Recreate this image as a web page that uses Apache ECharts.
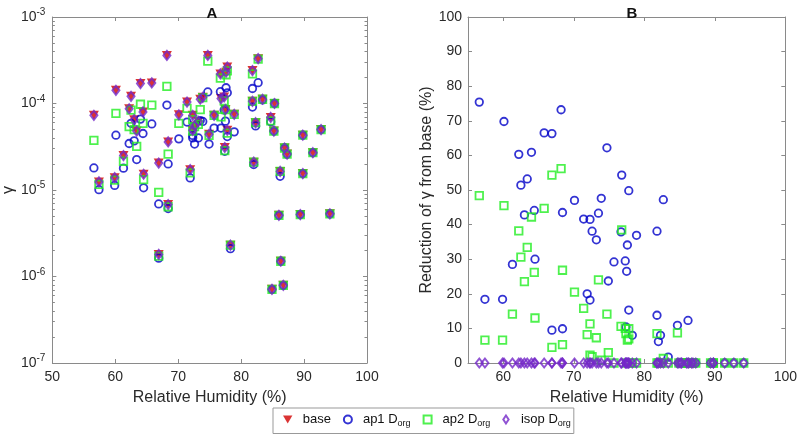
<!DOCTYPE html>
<html><head><meta charset="utf-8">
<script src="https://cdn.jsdelivr.net/npm/echarts@6/dist/echarts.min.js"></script>
<style>html,body{margin:0;padding:0;background:#fff}#c{width:800px;height:436px}</style>
</head><body><div id="c"></div>
<script>
// Relative humidity of each observation (%)
const rh = [56.6,57.4,59.9,60.1,61.3,62.2,62.5,63.0,63.4,64.0,
  64.4,64.5,65.8,66.9,66.9,68.2,68.4,68.4,70.1,71.4,
  71.9,72.3,72.3,72.6,73.2,73.5,73.9,74.7,74.9,75.7,
  76.7,76.8,77.3,77.4,77.5,77.6,77.8,77.8,78.3,78.9,
  81.8,81.8,82.0,82.3,82.7,83.4,84.7,84.9,85.2,85.3,
  86.0,86.2,86.3,86.7,86.9,87.3,89.4,89.8,89.8,91.4,92.7,94.1];
// Panel A: gamma
const gammaBase = [7.3e-5,1.24e-5,1.39e-5,1.42e-4,2.5e-5,8.7e-5,1.21e-4,6.5e-5,4.8e-5,1.70e-4,
  8.0e-5,1.52e-5,1.73e-4,2.05e-5,1.8e-6,3.6e-4,6.8e-6,3.6e-5,7.4e-5,1.04e-4,
  1.72e-5,7.3e-5,4.9e-5,5.5e-5,6.2e-5,1.12e-4,1.18e-4,3.6e-4,4.4e-5,7.3e-5,
  2.2e-4,1.14e-4,1.19e-4,3.1e-5,8.5e-5,2.3e-4,2.64e-4,4.9e-5,2.3e-6,7.5e-5,
  2.4e-4,1.06e-4,2.1e-5,6.0e-5,3.3e-4,1.12e-4,6.9e-5,7.1e-7,4.8e-5,1.0e-4,
  5.1e-6,1.64e-5,1.5e-6,7.9e-7,3.06e-5,2.6e-5,5.2e-6,4.3e-5,1.55e-5,2.7e-5,5.0e-5,5.3e-6];
const gammaAp1 = [1.8e-5,1.01e-5,1.13e-5,4.3e-5,1.79e-5,3.45e-5,5.9e-5,3.7e-5,2.25e-5,6.6e-5,
  4.5e-5,1.06e-5,5.8e-5,6.9e-6,1.63e-6,9.6e-5,6.1e-6,2.0e-5,3.9e-5,6.1e-5,
  1.38e-5,4.27e-5,4.0e-5,3.4e-5,4.0e-5,6.35e-5,6.2e-5,1.36e-4,3.4e-5,5.2e-5,
  1.37e-4,5.2e-5,8.4e-5,2.8e-5,6.25e-5,1.52e-4,1.33e-4,4.15e-5,2.1e-6,4.7e-5,
  1.49e-4,9.1e-5,1.97e-5,5.5e-5,1.74e-4,1.1e-4,6.15e-5,7.1e-7,4.8e-5,1.0e-4,
  5.1e-6,1.44e-5,1.5e-6,7.9e-7,3.06e-5,2.6e-5,5.2e-6,4.3e-5,1.55e-5,2.7e-5,5.0e-5,5.3e-6];
const gammaAp2 = [3.75e-5,1.16e-5,1.30e-5,7.7e-5,2.15e-5,5.4e-5,8.4e-5,5.0e-5,3.2e-5,9.8e-5,
  5.9e-5,1.32e-5,9.6e-5,9.4e-6,1.72e-6,1.58e-4,6.4e-6,2.6e-5,5.9e-5,8.8e-5,
  1.58e-5,6.5e-5,4.8e-5,5.4e-5,5.75e-5,8.5e-5,1.17e-4,3.09e-4,4.27e-5,7.3e-5,
  1.97e-4,7.0e-5,1.07e-4,2.85e-5,8.5e-5,2.15e-4,2.38e-4,4.55e-5,2.3e-6,7.5e-5,
  2.2e-4,1.06e-4,2.1e-5,6.0e-5,3.26e-4,1.12e-4,6.3e-5,7.1e-7,4.8e-5,1.0e-4,
  5.1e-6,1.64e-5,1.5e-6,7.9e-7,3.06e-5,2.6e-5,5.2e-6,4.3e-5,1.55e-5,2.7e-5,5.0e-5,5.3e-6];
const gammaIsop = [7.3e-5,1.24e-5,1.39e-5,1.42e-4,2.5e-5,8.7e-5,1.21e-4,6.5e-5,4.8e-5,1.70e-4,
  8.0e-5,1.52e-5,1.73e-4,2.05e-5,1.8e-6,3.6e-4,6.8e-6,3.6e-5,7.4e-5,1.04e-4,
  1.72e-5,7.3e-5,4.9e-5,5.5e-5,6.2e-5,1.12e-4,1.18e-4,3.6e-4,4.4e-5,7.3e-5,
  2.2e-4,1.14e-4,1.19e-4,3.1e-5,8.5e-5,2.3e-4,2.64e-4,4.9e-5,2.3e-6,7.5e-5,
  2.4e-4,1.06e-4,2.1e-5,6.0e-5,3.3e-4,1.12e-4,6.9e-5,7.1e-7,4.8e-5,1.0e-4,
  5.1e-6,1.64e-5,1.5e-6,7.9e-7,3.06e-5,2.6e-5,5.2e-6,4.3e-5,1.55e-5,2.7e-5,5.0e-5,5.3e-6];
// Panel B: reduction of gamma from base (%)
const redAp1 = [75.4,18.4,18.4,69.8,28.5,60.3,51.4,42.8,53.2,60.9,
  44.1,30.0,66.5,66.3,9.5,73.2,9.9,43.5,47.0,41.6,
  20.0,41.5,18.2,38.1,35.6,43.3,47.6,62.2,23.7,29.2,
  37.9,54.3,29.5,10.4,26.5,34.1,49.8,15.3,8.0,36.9,
  38.1,13.8,6.2,8.0,47.2,1.7,10.9,0,0,0,
  0,12.3,0,0,0,0,0,0,0,0,0,0];
const redAp2 = [48.4,6.6,6.6,45.5,14.1,38.2,30.6,23.5,33.4,42.2,
  26.2,13.0,44.7,54.3,4.5,56.2,5.3,26.8,20.5,15.8,
  8.2,11.3,2.3,1.8,7.3,24.0,0.8,14.1,3.0,0,
  10.6,38.5,10.0,8.5,0,6.6,9.9,7.0,0,0,
  8.5,0,0,0,1.3,0,8.7,0,0,0,
  0,0,0,0,0,0,0,0,0,0,0,0];
const redIsop = [0,0,0,0,0,0,0,0,0,0, 0,0,0,0,0,0,0,0,0,0,
  0,0,0,0,0,0,0,0,0,0, 0,0,0,0,0,0,0,0,0,0,
  0,0,0,0,0,0,0,0,0,0, 0,0,0,0,0,0,0,0,0,0,0,0];
const xTicksB = [60,70,80,90,100];
const seriesNames = ['base','ap1','ap2','isop'];
const legendLabels = {base:'base', ap1:'ap1 D{sub|org}', ap2:'ap2 D{sub|org}', isop:'isop D{sub|org}'};

const pairs = (xs, ys) => xs.map((x,i) => [x, ys[i]]);
const C = {base:'#d10000', ap1:'#0000c8', ap2:'#22ee22', isop:'#7428c8'};
const FONT = 'Liberation Sans, Arial, sans-serif';
const AX = '#8a8a8a';
const TXT = '#2a2a2a';
const triDown = 'path://M0,0L20,0L10,17Z';
const squarePath = 'path://M0,0L10,0L10,10L0,10Z';
const diamondPath = 'path://M5,0L9,6L5,12L1,6Z';

// minor tick positions for log axis (in exponent space)
const minorLog = [];
for (let e = -7; e < -3; e++) for (let k = 2; k <= 9; k++) minorLog.push(e + Math.log10(k));

function xAx(grid, pos, min, max, show, extra) {
  return Object.assign({
    type:'value', gridIndex:grid, position:pos, min:min, max:max,
    axisLine:{show:true, onZero:false, lineStyle:{color:AX, width:1}},
    axisTick:{show:true, inside:true, length:4, lineStyle:{color:AX}},
    axisLabel:{show:show, color:TXT, fontSize:14, fontFamily:FONT, margin:7},
    splitLine:{show:false}
  }, extra || {});
}
const hollow = c => ({color:'rgba(0,0,0,0)', borderColor:c, borderWidth:1.8});

const option = {
  animation:false,
  backgroundColor:'#fff',
  textStyle:{fontFamily:FONT},
  title:[
    {text:'A', left:207, top:1, textAlign:'center', textStyle:{fontSize:15, fontWeight:'bold', color:'#111', fontFamily:FONT}},
    {text:'B', left:627, top:1, textAlign:'center', textStyle:{fontSize:15, fontWeight:'bold', color:'#111', fontFamily:FONT}}
  ],
  grid:[
    {left:48, top:17, width:319, height:346},
    {left:468, top:17, width:319, height:346}
  ],
  legend:{
    left:273, top:408, orient:'horizontal',
    itemWidth:20, itemHeight:8, itemGap:12,
    padding:[5,3,5,10],
    borderColor:'#999', borderWidth:1, backgroundColor:'#fff',
    data:seriesNames,
    formatter:name => legendLabels[name],
    textStyle:{fontSize:13, color:'#111', fontFamily:FONT,
      rich:{sub:{fontSize:9, color:'#111', fontFamily:FONT, padding:[9,0,0,0]}}}
  },
  xAxis:[
    xAx(0,'bottom',50,100,true,{interval:10, name:'Relative Humidity (%)', nameLocation:'middle', nameGap:27,
      nameTextStyle:{fontSize:16, color:TXT, fontFamily:FONT}}),
    xAx(0,'top',50,100,false,{interval:10}),
    xAx(1,'bottom',55,100,true,{name:'Relative Humidity (%)', nameLocation:'middle', nameGap:27,
      nameTextStyle:{fontSize:16, color:TXT, fontFamily:FONT},
      axisLabel:{show:true, color:TXT, fontSize:14, fontFamily:FONT, margin:7, customValues:xTicksB},
      axisTick:{show:true, inside:true, length:4, lineStyle:{color:AX}, customValues:xTicksB}}),
    xAx(1,'top',55,100,false,{
      axisTick:{show:true, inside:true, length:4, lineStyle:{color:AX}, customValues:xTicksB}})
  ],
  yAxis:[
    {type:'log', logBase:10, gridIndex:0, position:'left', min:1e-7, max:1e-3,
      axisLine:{show:true, lineStyle:{color:AX}},
      axisTick:{show:true, inside:true, length:4, lineStyle:{color:AX}},
      axisLabel:{color:TXT, fontSize:14, fontFamily:FONT, margin:7,
        formatter:v => '10{sup|' + Math.round(Math.log10(v)) + '}',
        rich:{sup:{fontSize:10, color:TXT, fontFamily:FONT, padding:[0,0,9,0]}}},
      splitLine:{show:false},
      name:'γ', nameLocation:'middle', nameGap:32, nameRotate:90,
      nameTextStyle:{fontSize:16, color:TXT, fontFamily:FONT}},
    {type:'log', logBase:10, gridIndex:0, position:'right', min:1e-7, max:1e-3,
      axisLine:{show:true, lineStyle:{color:AX}},
      axisTick:{show:true, inside:true, length:4, lineStyle:{color:AX}},
      axisLabel:{show:false}, splitLine:{show:false}},
    {type:'value', gridIndex:0, position:'left', min:-7, max:-3,
      axisLine:{show:false}, axisLabel:{show:false}, splitLine:{show:false},
      axisTick:{show:true, inside:true, length:2.5, lineStyle:{color:AX}, customValues:minorLog}},
    {type:'value', gridIndex:0, position:'right', min:-7, max:-3,
      axisLine:{show:false}, axisLabel:{show:false}, splitLine:{show:false},
      axisTick:{show:true, inside:true, length:2.5, lineStyle:{color:AX}, customValues:minorLog}},
    {type:'value', gridIndex:1, position:'left', min:0, max:100, interval:10,
      axisLine:{show:true, lineStyle:{color:AX}},
      axisTick:{show:true, inside:true, length:4, lineStyle:{color:AX}},
      axisLabel:{color:TXT, fontSize:14, fontFamily:FONT, margin:6},
      splitLine:{show:false},
      name:'Reduction of γ from base (%)', nameLocation:'middle', nameGap:33, nameRotate:90,
      nameTextStyle:{fontSize:16, color:TXT, fontFamily:FONT}},
    {type:'value', gridIndex:1, position:'right', min:0, max:100, interval:10,
      axisLine:{show:true, lineStyle:{color:AX}},
      axisTick:{show:true, inside:true, length:4, lineStyle:{color:AX}},
      axisLabel:{show:false}, splitLine:{show:false}}
  ],
  series:[
    {name:'base', type:'scatter', xAxisIndex:0, yAxisIndex:0, clip:false,
      symbol:triDown, symbolSize:[10,9], symbolKeepAspect:false, itemStyle:{color:C.base},
      data:pairs(rh, gammaBase)},
    {name:'ap1', type:'scatter', xAxisIndex:0, yAxisIndex:0, clip:false,
      symbol:'circle', symbolSize:7.5, itemStyle:hollow(C.ap1),
      data:pairs(rh, gammaAp1)},
    {name:'ap2', type:'scatter', xAxisIndex:0, yAxisIndex:0, clip:false,
      symbol:squarePath, symbolSize:7.5, itemStyle:hollow(C.ap2),
      data:pairs(rh, gammaAp2)},
    {name:'isop', type:'scatter', xAxisIndex:0, yAxisIndex:0, clip:false,
      symbol:diamondPath, symbolSize:[7,9], symbolKeepAspect:false, itemStyle:Object.assign(hollow(C.isop),{borderWidth:2}),
      data:pairs(rh, gammaIsop)},
    {name:'ap1', type:'scatter', xAxisIndex:2, yAxisIndex:4, clip:false,
      symbol:'circle', symbolSize:7.5, itemStyle:hollow(C.ap1),
      data:pairs(rh, redAp1)},
    {name:'ap2', type:'scatter', xAxisIndex:2, yAxisIndex:4, clip:false,
      symbol:squarePath, symbolSize:7.5, itemStyle:hollow(C.ap2),
      data:pairs(rh, redAp2)},
    {name:'isop', type:'scatter', xAxisIndex:2, yAxisIndex:4, clip:false,
      symbol:diamondPath, symbolSize:[7,9], symbolKeepAspect:false, itemStyle:Object.assign(hollow(C.isop),{borderWidth:2}),
      data:pairs(rh, redIsop)}
  ]
};
const chart = echarts.init(document.getElementById('c'), null, {renderer:'canvas'});
chart.setOption(option);
</script>
</body></html>
